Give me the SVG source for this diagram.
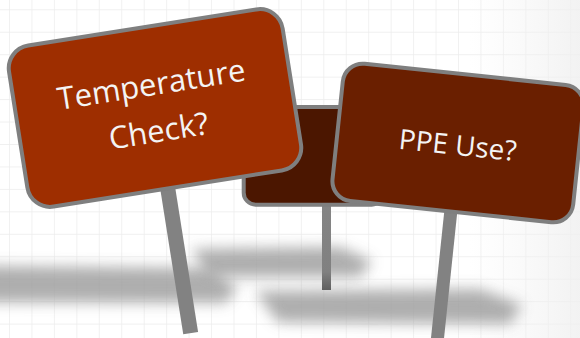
<svg xmlns="http://www.w3.org/2000/svg" width="580" height="338" viewBox="0 0 580 338">
  <defs>
    <pattern id="grid" x="9" y="9.3" width="22.45" height="22.45" patternUnits="userSpaceOnUse">
      <path d="M0 0 H22.45 M0 0 V22.45" fill="none" stroke="#ececec" stroke-width="1.4"/>
    </pattern>
    <linearGradient id="fadeR" x1="0" y1="0" x2="1" y2="0">
      <stop offset="0" stop-color="#f3f3f3" stop-opacity="0"/>
      <stop offset="1" stop-color="#efefef" stop-opacity="0.8"/>
    </linearGradient>
    <linearGradient id="postMid" x1="0" y1="0" x2="0" y2="1">
      <stop offset="0" stop-color="#858585"/>
      <stop offset="0.8" stop-color="#808080"/>
      <stop offset="1" stop-color="#5f5f5f"/>
    </linearGradient>
    <filter id="blur" x="-20%" y="-100%" width="140%" height="300%">
      <feGaussianBlur stdDeviation="7"/>
    </filter>
  </defs>
  <style>
    .sign { stroke: #7f7f7f; stroke-width: 4; }
    .post { fill: #828282; }
    .label { font-family: "Open Sans", "Liberation Sans", sans-serif; fill: #f4f4f4; text-anchor: middle; }
    .shadow { fill: #a0a0a0; opacity: 0.85; filter: url(#blur); }
  </style>

  <rect width="580" height="338" fill="#ffffff"/>
  <rect width="580" height="338" fill="url(#grid)"/>
  <rect x="470" y="0" width="110" height="338" fill="url(#fadeR)"/>

  <g id="shadows">
    <path class="shadow" d="M-20 266 L210 268 L238 288 L225 303 L-20 302 Z"/>
    <path class="shadow" d="M192 249 L340 247 L372 261 L360 277 L208 277 Z"/>
    <path class="shadow" d="M255 291 L480 289 L522 305 L510 324 L278 322 Z"/>
  </g>

  <g id="sign-middle">
    <rect class="post" x="322" y="200" width="9" height="90" style="fill:url(#postMid)"/>
    <rect class="sign" x="243.7" y="107" width="140" height="97.7" rx="12" fill="#4b1600"/>
  </g>

  <g id="sign-temperature" transform="translate(155 108) rotate(-9)">
    <rect class="post" x="-7.5" y="70" width="15" height="158"/>
    <rect class="sign" x="-138.5" y="-81.5" width="277" height="163" rx="23" fill="#9e2e00"/>
    <text class="label" x="0" y="-13" font-size="31">Temperature</text>
    <text class="label" x="0" y="34" font-size="31">Check?</text>
  </g>

  <g id="sign-ppe" transform="translate(458 143) rotate(6)">
    <rect class="post" x="-6.5" y="60" width="13" height="160"/>
    <rect class="sign" x="-121" y="-69" width="242" height="138" rx="20" fill="#6a1f00"/>
    <text class="label" x="0" y="12" font-size="28">PPE Use?</text>
  </g>
</svg>
